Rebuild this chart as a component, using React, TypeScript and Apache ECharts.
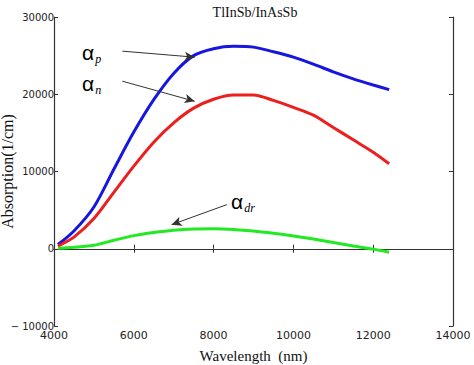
import React, { useEffect, useRef } from "react";
import * as echarts from "echarts";

const wavelengths = [4100, 4500, 5000, 5500, 6000, 6500, 7000, 7500, 8000, 8500, 9000, 9500, 10000, 10500, 11000, 11500, 12000, 12400];
const alphaP = [550, 2300, 5400, 10300, 15100, 19300, 22700, 25000, 25900, 26200, 26100, 25500, 24800, 23900, 22900, 22000, 21200, 20600];
const alphaN = [350, 1500, 3900, 7300, 10700, 13800, 16300, 18200, 19350, 19900, 19900, 19200, 18300, 17300, 15700, 14100, 12500, 11000];
const alphaDr = [80, 200, 450, 1100, 1700, 2100, 2400, 2550, 2580, 2500, 2300, 2000, 1650, 1250, 800, 350, -50, -450];

const arrowP = [[5713, 25580], [7526, 24800]];
const arrowN = [[5713, 21690], [7526, 19090]];
const arrowDr = [[8333, 5710], [6947, 3120]];

const xTicks = { min: 4000, max: 14000, interval: 2000 };
const yTicks = { min: -10000, max: 30000, interval: 10000 };

const pairs = (vals: number[]) => wavelengths.map((w, i) => [w, vals[i]]);

export default function App() {
  const ref = useRef<HTMLDivElement>(null);
  useEffect(() => {
    if (!ref.current) return;
    const chart = echarts.init(ref.current, null, { renderer: "svg" });
    const axisLine = { show: true, lineStyle: { color: "#333", width: 1.2 } };
    const tick = { show: true, inside: true, length: 4, lineStyle: { color: "#333" } };
    const labelFont = { fontFamily: "DejaVu Sans", color: "#222" };
    const sub = () => ({
      a: { fontSize: 21, fontFamily: "Liberation Sans", color: "#111", lineHeight: 24 },
      s: { fontSize: 12, fontStyle: "italic", fontFamily: "Liberation Serif", color: "#111", lineHeight: 24, padding: [13, 0, 0, 1] },
    });
    const alphaText = (left: number, top: number, s: string) => ({
      type: "text",
      left,
      top,
      style: { text: `{a|α}{s|${s}}`, rich: sub() },
    });
    const arrow = (a: number[][]) => [{ coord: a[0] }, { coord: a[1] }];
    chart.setOption({
      animation: false,
      backgroundColor: "#fff",
      title: {
        text: "TlInSb/InAsSb",
        left: 250,
        top: 0,
        textAlign: "center",
        textStyle: { fontFamily: "Liberation Serif", fontSize: 14, fontWeight: "normal", color: "#111" },
      },
      grid: { left: 54, right: 21, top: 17, bottom: 39, containLabel: false, outerBoundsMode: "none" },
      xAxis: [
        {
          type: "value",
          ...xTicks,
          name: "Wavelength  (nm)",
          nameLocation: "middle",
          nameGap: 22,
          nameMoveOverlap: false,
          nameTextStyle: { fontFamily: "Liberation Serif", fontSize: 15, color: "#111" },
          axisLine,
          axisTick: tick,
          splitLine: { show: false },
          axisLabel: { ...labelFont, fontSize: 11, margin: 4, formatter: (v: number) => String(v) },
        },
        {
          type: "value",
          ...xTicks,
          position: "top",
          axisLine,
          axisTick: tick,
          splitLine: { show: false },
          axisLabel: { show: false },
        },
      ],
      yAxis: [
        {
          type: "value",
          ...yTicks,
          name: "Absorption(1/cm)",
          nameLocation: "middle",
          nameGap: 39,
          nameMoveOverlap: false,
          nameTextStyle: { fontFamily: "Liberation Serif", fontSize: 16, color: "#111" },
          axisLine,
          axisTick: tick,
          splitLine: { show: false },
          axisLabel: {
            ...labelFont,
            fontSize: 10,
            margin: 0,
            formatter: (v: number) => (v < 0 ? "\u2212 " + Math.abs(v) : String(v)),
          },
        },
        {
          type: "value",
          ...yTicks,
          position: "right",
          axisLine,
          axisTick: tick,
          splitLine: { show: false },
          axisLabel: { show: false },
        },
      ],
      series: [
        {
          type: "line",
          data: pairs(alphaP),
          smooth: 0.3,
          showSymbol: false,
          lineStyle: { color: "#1616e0", width: 3 },
          markLine: {
            silent: true,
            symbol: ["none", "arrow"],
            symbolSize: [7, 10],
            label: { show: false },
            lineStyle: { color: "#333", width: 1, type: "solid" },
            data: [arrow(arrowP), arrow(arrowN), arrow(arrowDr)],
          },
        },
        {
          type: "line",
          data: pairs(alphaN),
          smooth: 0.3,
          showSymbol: false,
          lineStyle: { color: "#ec1e1e", width: 3 },
        },
        {
          type: "line",
          data: pairs(alphaDr),
          smooth: 0.3,
          showSymbol: false,
          lineStyle: { color: "#22ea22", width: 3 },
        },
      ],
      graphic: [alphaText(82, 40, "p"), alphaText(82, 71, "n"), alphaText(231, 189, "dr")],
    });
    return () => chart.dispose();
  }, []);
  return <div ref={ref} style={{ width: 474, height: 365, position: "absolute", left: 0, top: 0 }} />;
}
